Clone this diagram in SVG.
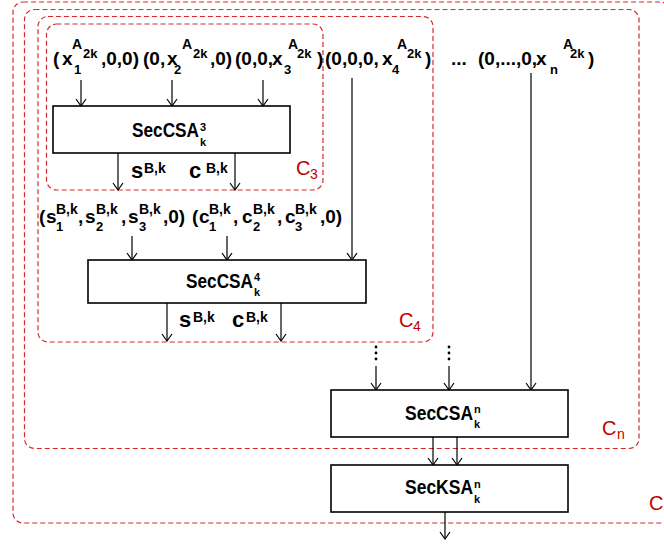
<svg xmlns="http://www.w3.org/2000/svg" width="664" height="545" viewBox="0 0 664 545">
<style>
.reg{fill:none;stroke:#d42a2a;stroke-width:1.2;stroke-dasharray:5,3}
.box{fill:#fff;stroke:#000;stroke-width:1.6}
.t{font-family:"Liberation Sans",Arial,sans-serif;font-weight:bold;fill:#000}
.m{font-size:19px}
.s{font-size:13px}
.sup{font-size:14px}
.bl{font-size:20px}
.bs{font-size:11px}
.lb{font-size:22px}
.cl{font-family:"Liberation Sans",Arial,sans-serif;fill:#c00000;font-size:20px}
.cs{font-size:14px}
.ar{stroke:#000;stroke-width:1.2;fill:none;marker-end:url(#ah)}
</style>
<defs>
<marker id="ah" markerWidth="10" markerHeight="12" refX="8" refY="6" orient="auto" markerUnits="userSpaceOnUse" viewBox="0 0 10 12">
<path d="M1,1 L8,6 L1,11" fill="none" stroke="#000" stroke-width="1.2"/>
</marker>
</defs>
<rect width="664" height="545" fill="#fff"/>

<g id="region-C">
<rect class="reg" x="13" y="2" width="657" height="521" rx="10"/>
<text class="cl" x="649" y="510">C</text>
</g>
<g id="region-Cn">
<rect class="reg" x="24.5" y="9.5" width="614.5" height="439" rx="10"/>
<text class="cl" x="602" y="435">C<tspan class="cs" x="617" y="439">n</tspan></text>
</g>
<g id="region-C4">
<rect class="reg" x="38" y="16.5" width="395" height="325.5" rx="10"/>
<text class="cl" x="399" y="327">C<tspan class="cs" x="413" y="331">4</tspan></text>
</g>
<g id="region-C3">
<rect class="reg" x="46.5" y="24" width="276.5" height="166" rx="10"/>
<text class="cl" x="296" y="175">C<tspan class="cs" x="310" y="179">3</tspan></text>
</g>

<g id="connectors">
<line class="ar" x1="81" y1="80" x2="81" y2="106"/>
<line class="ar" x1="172" y1="80" x2="172" y2="106"/>
<line class="ar" x1="263" y1="80" x2="263" y2="106"/>
<line class="ar" x1="352" y1="78" x2="352" y2="260"/>
<line class="ar" x1="531" y1="73" x2="531" y2="390"/>
<line class="ar" x1="118" y1="153" x2="118" y2="190"/>
<line class="ar" x1="235" y1="153" x2="235" y2="190"/>
<line class="ar" x1="132" y1="236" x2="132" y2="260"/>
<line class="ar" x1="227" y1="236" x2="227" y2="260"/>
<line class="ar" x1="167" y1="303" x2="167" y2="341"/>
<line class="ar" x1="281" y1="303" x2="281" y2="341"/>
<g fill="#000">
<circle cx="376" cy="347" r="1.4"/><circle cx="376" cy="353" r="1.4"/><circle cx="376" cy="359" r="1.4"/>
<circle cx="449" cy="347" r="1.4"/><circle cx="449" cy="353" r="1.4"/><circle cx="449" cy="359" r="1.4"/>
</g>
<line class="ar" x1="376" y1="366" x2="376" y2="390"/>
<line class="ar" x1="449" y1="366" x2="449" y2="390"/>
<line class="ar" x1="433" y1="437" x2="433" y2="465"/>
<line class="ar" x1="457" y1="437" x2="457" y2="465"/>
<line class="ar" x1="445" y1="512" x2="445" y2="539"/>
</g>

<g id="inputs-top">
<text class="t m" x="53" y="65">(<tspan x="62">x</tspan><tspan class="s" x="74" y="74">1</tspan><tspan class="sup" x="72" y="49">A</tspan><tspan class="s" x="83" y="58">2k</tspan><tspan x="101" y="65">,0,0)</tspan></text>
<text class="t m" x="143" y="65">(0,<tspan x="167">x</tspan><tspan class="s" x="174" y="74">2</tspan><tspan class="sup" x="182" y="49">A</tspan><tspan class="s" x="193" y="58">2k</tspan><tspan x="210" y="65">,0)</tspan></text>
<text class="t m" x="235" y="65">(0,0,<tspan x="272">x</tspan><tspan class="s" x="284" y="74">3</tspan><tspan class="sup" x="288" y="49">A</tspan><tspan class="s" x="297" y="58">2k</tspan><tspan x="317" y="65">)</tspan></text>
<text class="t m" x="325" y="65">(0,0,0,<tspan x="382">x</tspan><tspan class="s" x="392" y="74">4</tspan><tspan class="sup" x="397" y="49">A</tspan><tspan class="s" x="407" y="58">2k</tspan><tspan x="425" y="65">)</tspan></text>
<text class="t m" x="451" y="65">...</text>
<text class="t m" x="478" y="65">(0,...,0,<tspan x="536">x</tspan><tspan class="s" x="550" y="74">n</tspan><tspan class="sup" x="563" y="49">A</tspan><tspan class="s" x="570" y="58">2k</tspan><tspan x="588" y="65">)</tspan></text>
</g>

<g id="SecCSA3">
<rect class="box" x="53" y="106" width="237" height="47"/>
<text class="t bl" x="132" y="137"><tspan textLength="67" lengthAdjust="spacingAndGlyphs">SecCSA</tspan><tspan class="bs" x="200" y="131">3</tspan><tspan class="bs" x="200" y="146">k</tspan></text>
</g>
<g id="out3">
<text class="t lb" x="131" y="178">s<tspan class="sup" x="144" y="173">B,k</tspan></text>
<text class="t lb" x="189" y="178">c<tspan class="sup" x="206" y="173">B,k</tspan></text>
</g>

<g id="inputs-4">
<text class="t m" x="39" y="223">(<tspan x="46">s</tspan><tspan class="sup" x="56" y="214">B,k</tspan><tspan class="s" x="56" y="231">1</tspan><tspan x="78" y="223">,</tspan><tspan x="85">s</tspan><tspan class="sup" x="96" y="214">B,k</tspan><tspan class="s" x="96" y="231">2</tspan><tspan x="121" y="223">,</tspan><tspan x="128">s</tspan><tspan class="sup" x="139" y="214">B,k</tspan><tspan class="s" x="139" y="231">3</tspan><tspan x="163" y="223">,0)</tspan></text>
<text class="t m" x="192" y="223">(<tspan x="199">c</tspan><tspan class="sup" x="209" y="214">B,k</tspan><tspan class="s" x="209" y="231">1</tspan><tspan x="233" y="223">,</tspan><tspan x="242">c</tspan><tspan class="sup" x="253" y="214">B,k</tspan><tspan class="s" x="253" y="231">2</tspan><tspan x="277" y="223">,</tspan><tspan x="285">c</tspan><tspan class="sup" x="295" y="214">B,k</tspan><tspan class="s" x="295" y="231">3</tspan><tspan x="320" y="223">,0)</tspan></text>
</g>

<g id="SecCSA4">
<rect class="box" x="88" y="260" width="278" height="43"/>
<text class="t bl" x="186" y="288"><tspan textLength="67" lengthAdjust="spacingAndGlyphs">SecCSA</tspan><tspan class="bs" x="254" y="281">4</tspan><tspan class="bs" x="254" y="296">k</tspan></text>
</g>
<g id="out4">
<text class="t lb" x="179" y="327">s<tspan class="sup" x="193" y="322">B,k</tspan></text>
<text class="t lb" x="232" y="327">c<tspan class="sup" x="246" y="322">B,k</tspan></text>
</g>

<g id="SecCSAn">
<rect class="box" x="331" y="390" width="237" height="47"/>
<text class="t bl" x="405" y="420"><tspan textLength="68" lengthAdjust="spacingAndGlyphs">SecCSA</tspan><tspan class="bs" x="474" y="413">n</tspan><tspan class="bs" x="474" y="428">k</tspan></text>
</g>
<g id="SecKSAn">
<rect class="box" x="331" y="465" width="237" height="47"/>
<text class="t bl" x="405" y="494"><tspan textLength="68" lengthAdjust="spacingAndGlyphs">SecKSA</tspan><tspan class="bs" x="474" y="488">n</tspan><tspan class="bs" x="474" y="503">k</tspan></text>
</g>
</svg>
